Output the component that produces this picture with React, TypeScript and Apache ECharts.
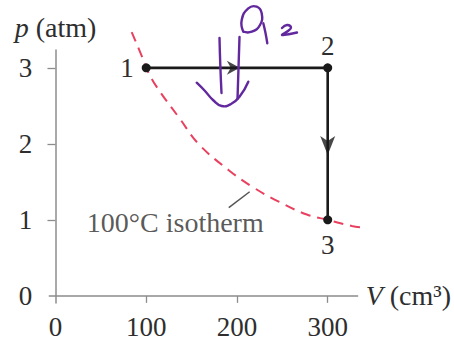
import React, { useEffect, useRef } from "react";
import * as echarts from "echarts";

// Axis ticks / labels
const xTickValues = [100, 200, 300];
const xLabelValues = [0, 100, 200, 300];
const yTickValues = [1, 2, 3];
const yLabelValues = [0, 1, 2, 3];

// Process 1 -> 2 -> 3
const pathV = [100, 300, 300];
const pathP = [3, 3, 1];
const pathLabels = ["1", "2", "3"];

// Isotherm
const isoV = [84, 96, 100, 111, 136.5, 158.4, 191.3, 216.9, 246, 277, 300, 326.5, 350];
const isoP = [3.47, 3.13, 3, 2.76, 2.34, 1.99, 1.65, 1.435, 1.24, 1.07, 1.0, 0.92, 0.88];

// Arrow heads on the process
const arrowV = [196, 300];
const arrowP = [3, 1.98];

// Isotherm label and leader
const leaderV = [191, 214];
const leaderP = [1.16, 1.37];
const isoLabelV = [132];
const isoLabelP = [0.96];
const isoLabelText = "100°C isotherm";

const SERIF = "'Liberation Serif', 'DejaVu Serif', serif";
const TEXT = "#2e2e2e";
const PURPLE = "#62289e";

export default function App() {
  const ref = useRef<HTMLDivElement>(null);
  useEffect(() => {
    if (!ref.current) return;
    const chart = echarts.init(ref.current, null, { renderer: "svg" });
    const scribble = (points: number[][]) => ({
      type: "polyline",
      shape: { points, smooth: 0.5 },
      style: { stroke: PURPLE, lineWidth: 2.4, fill: null, lineCap: "round", lineJoin: "round" },
      z: 100,
    });
    chart.setOption({
      animation: false,
      backgroundColor: "#ffffff",
      grid: { left: 49.3, right: 94.7, top: 50, bottom: 31, containLabel: false },
      xAxis: {
        type: "value",
        min: -6.8,
        max: 333,
        axisLine: { onZero: true, lineStyle: { color: "#8c8c8c", width: 1.5 } },
        axisTick: { show: true, customValues: xTickValues, length: 7, lineStyle: { color: "#8c8c8c", width: 1.3 } },
        axisLabel: { customValues: xLabelValues, margin: 10, fontFamily: SERIF, fontSize: 27, color: TEXT },
        splitLine: { show: false },
        name: "{i|V} (cm³)",
        nameLocation: "end",
        nameGap: 8,
        nameTextStyle: {
          fontFamily: SERIF,
          fontSize: 28,
          color: TEXT,
          verticalAlign: "middle",
          rich: { i: { fontFamily: SERIF, fontStyle: "italic", fontSize: 28, color: TEXT } },
        },
      },
      yAxis: {
        type: "value",
        min: -0.094,
        max: 3.235,
        axisLine: { onZero: true, lineStyle: { color: "#8c8c8c", width: 1.5 } },
        axisTick: { show: true, customValues: yTickValues, length: 8, lineStyle: { color: "#8c8c8c", width: 1.3 } },
        axisLabel: { customValues: yLabelValues, margin: 17, fontFamily: SERIF, fontSize: 27, color: TEXT },
        splitLine: { show: false },
        name: "{i|p} (atm)",
        nameLocation: "end",
        nameGap: 9,
        nameTextStyle: {
          fontFamily: SERIF,
          fontSize: 28,
          color: TEXT,
          align: "center",
          rich: { i: { fontFamily: SERIF, fontStyle: "italic", fontSize: 28, color: TEXT } },
        },
      },
      series: [
        {
          type: "line",
          data: isoV.map((v, i) => [v, isoP[i]]),
          smooth: 0.4,
          showSymbol: false,
          clip: false,
          lineStyle: { color: "#e9405f", width: 2, type: [10, 7] },
          z: 1,
        },
        {
          type: "line",
          data: leaderV.map((v, i) => [v, leaderP[i]]),
          showSymbol: false,
          clip: false,
          lineStyle: { color: "#555555", width: 1.5 },
          z: 1,
        },
        {
          type: "scatter",
          data: isoLabelV.map((v, i) => [v, isoLabelP[i]]),
          symbolSize: 0,
          label: {
            show: true,
            position: "inside",
            formatter: isoLabelText,
            fontFamily: SERIF,
            fontSize: 28,
            color: TEXT,
          },
          z: 2,
        },
        {
          type: "line",
          data: pathV.map((v, i) => ({
            value: [v, pathP[i]],
            label: {
              show: true,
              formatter: pathLabels[i],
              position: i === 0 ? "left" : i === 1 ? "top" : "bottom",
              distance: i === 0 ? 8 : i === 1 ? 4 : 7,
            },
          })),
          symbol: "circle",
          symbolSize: 9,
          showSymbol: true,
          clip: false,
          itemStyle: { color: "#1a1a1a" },
          lineStyle: { color: "#1a1a1a", width: 2.6 },
          label: { fontFamily: SERIF, fontSize: 27, color: TEXT },
          z: 5,
        },
        {
          type: "scatter",
          data: arrowV.map((v, i) => ({
            value: [v, arrowP[i]],
            symbol: i === 0 ? "path://M0,0L13,7L0,14L4,7Z" : "path://M0,0L7.5,5L15,0L7.5,19Z",
            symbolSize: i === 0 ? [13, 14] : [15, 19],
          })),
          itemStyle: { color: "#1a1a1a" },
          clip: false,
          z: 6,
        },
      ],
      graphic: [
        scribble([[243.3, 31.7], [241.7, 20], [248.3, 8.3], [256.7, 6.7], [261.7, 13.3], [260, 25], [251.7, 31.7], [243.3, 31.7]]),
        scribble([[263.3, 23.3], [265.5, 33], [267.3, 43.3]]),
        scribble([[282, 28], [287, 25], [291, 27.5], [288, 31], [282, 35], [290, 34], [297, 32.5]]),
        scribble([[219.5, 38], [220.3, 65], [221.5, 93]]),
        scribble([[239.5, 37], [238.5, 68], [237.5, 99]]),
        scribble([[196.7, 82.7], [205, 91], [213, 100], [221.7, 106], [231, 104], [240, 96], [248.3, 81.7]]),
      ],
    });
    return () => chart.dispose();
  }, []);
  return (
    <div
      ref={ref}
      style={{ position: "fixed", left: 0, top: 0, width: 454, height: 340, background: "#fff" }}
    />
  );
}
